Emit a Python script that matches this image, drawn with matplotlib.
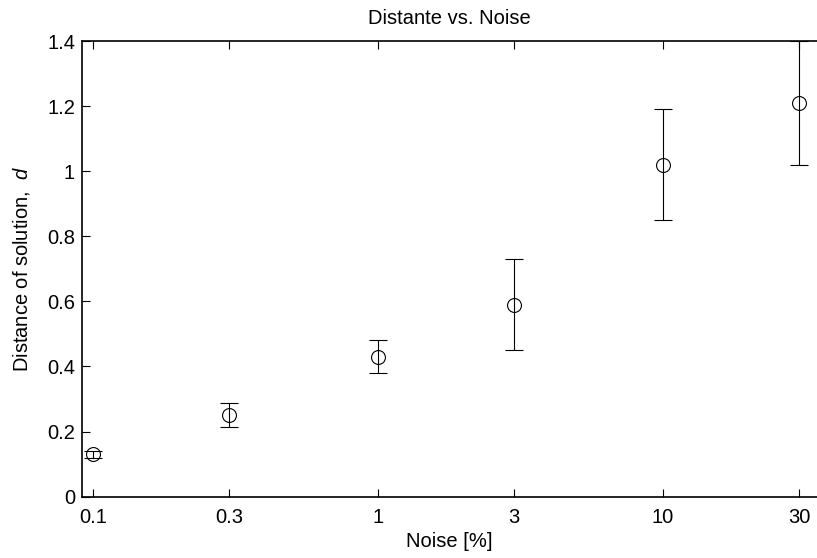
import matplotlib.pyplot as plt
from matplotlib.ticker import FixedLocator, FixedFormatter, NullLocator, FuncFormatter

plt.rcParams["font.family"] = ["Liberation Sans", "DejaVu Sans"]
plt.rcParams["mathtext.fontset"] = "custom"
plt.rcParams["mathtext.it"] = "Liberation Sans:italic"

noise = [0.1, 0.3, 1, 3, 10, 30]
noise_labels = ["0.1", "0.3", "1", "3", "10", "30"]
dist = [0.13, 0.25, 0.43, 0.59, 1.02, 1.21]
err_lo = [0.01, 0.037, 0.05, 0.14, 0.17, 0.19]
err_hi = [0.01, 0.037, 0.05, 0.14, 0.17, 0.19]

fig = plt.figure(figsize=(8.17, 5.58), dpi=100)
ax = fig.add_axes([0.1004, 0.1099, 0.8996, 0.8166])

ax.errorbar(noise, dist, yerr=[err_lo, err_hi], fmt="o", mfc="none", mec="black",
            ms=10, mew=0.8, ecolor="black", elinewidth=0.8, capsize=6.5, capthick=0.8)

ax.set_xscale("log")
ax.set_xlim(0.0915, 34.7)
ax.set_ylim(0, 1.4)
ax.xaxis.set_major_locator(FixedLocator(noise))
ax.xaxis.set_major_formatter(FixedFormatter(noise_labels))
ax.xaxis.set_minor_locator(NullLocator())
ax.set_yticks([0, 0.2, 0.4, 0.6, 0.8, 1.0, 1.2, 1.4])
ax.yaxis.set_major_formatter(FuncFormatter(lambda v, p: f"{v:g}"))

ax.tick_params(direction="in", length=6, width=0.8, labelsize=14.5, top=True)
ax.tick_params(axis="x", pad=8)
ax.tick_params(axis="y", pad=5)
for s in ["left", "bottom", "top"]:
    ax.spines[s].set_linewidth(1.2)
ax.spines["right"].set_visible(False)

ax.set_xlabel("Noise [%]", fontsize=14.5, labelpad=4)
ax.set_ylabel("Distance of solution,  $d$", fontsize=14.5, labelpad=11)
ax.set_title("Distante vs. Noise", fontsize=14.5, pad=12)

fig.savefig("out.png", dpi=100)
